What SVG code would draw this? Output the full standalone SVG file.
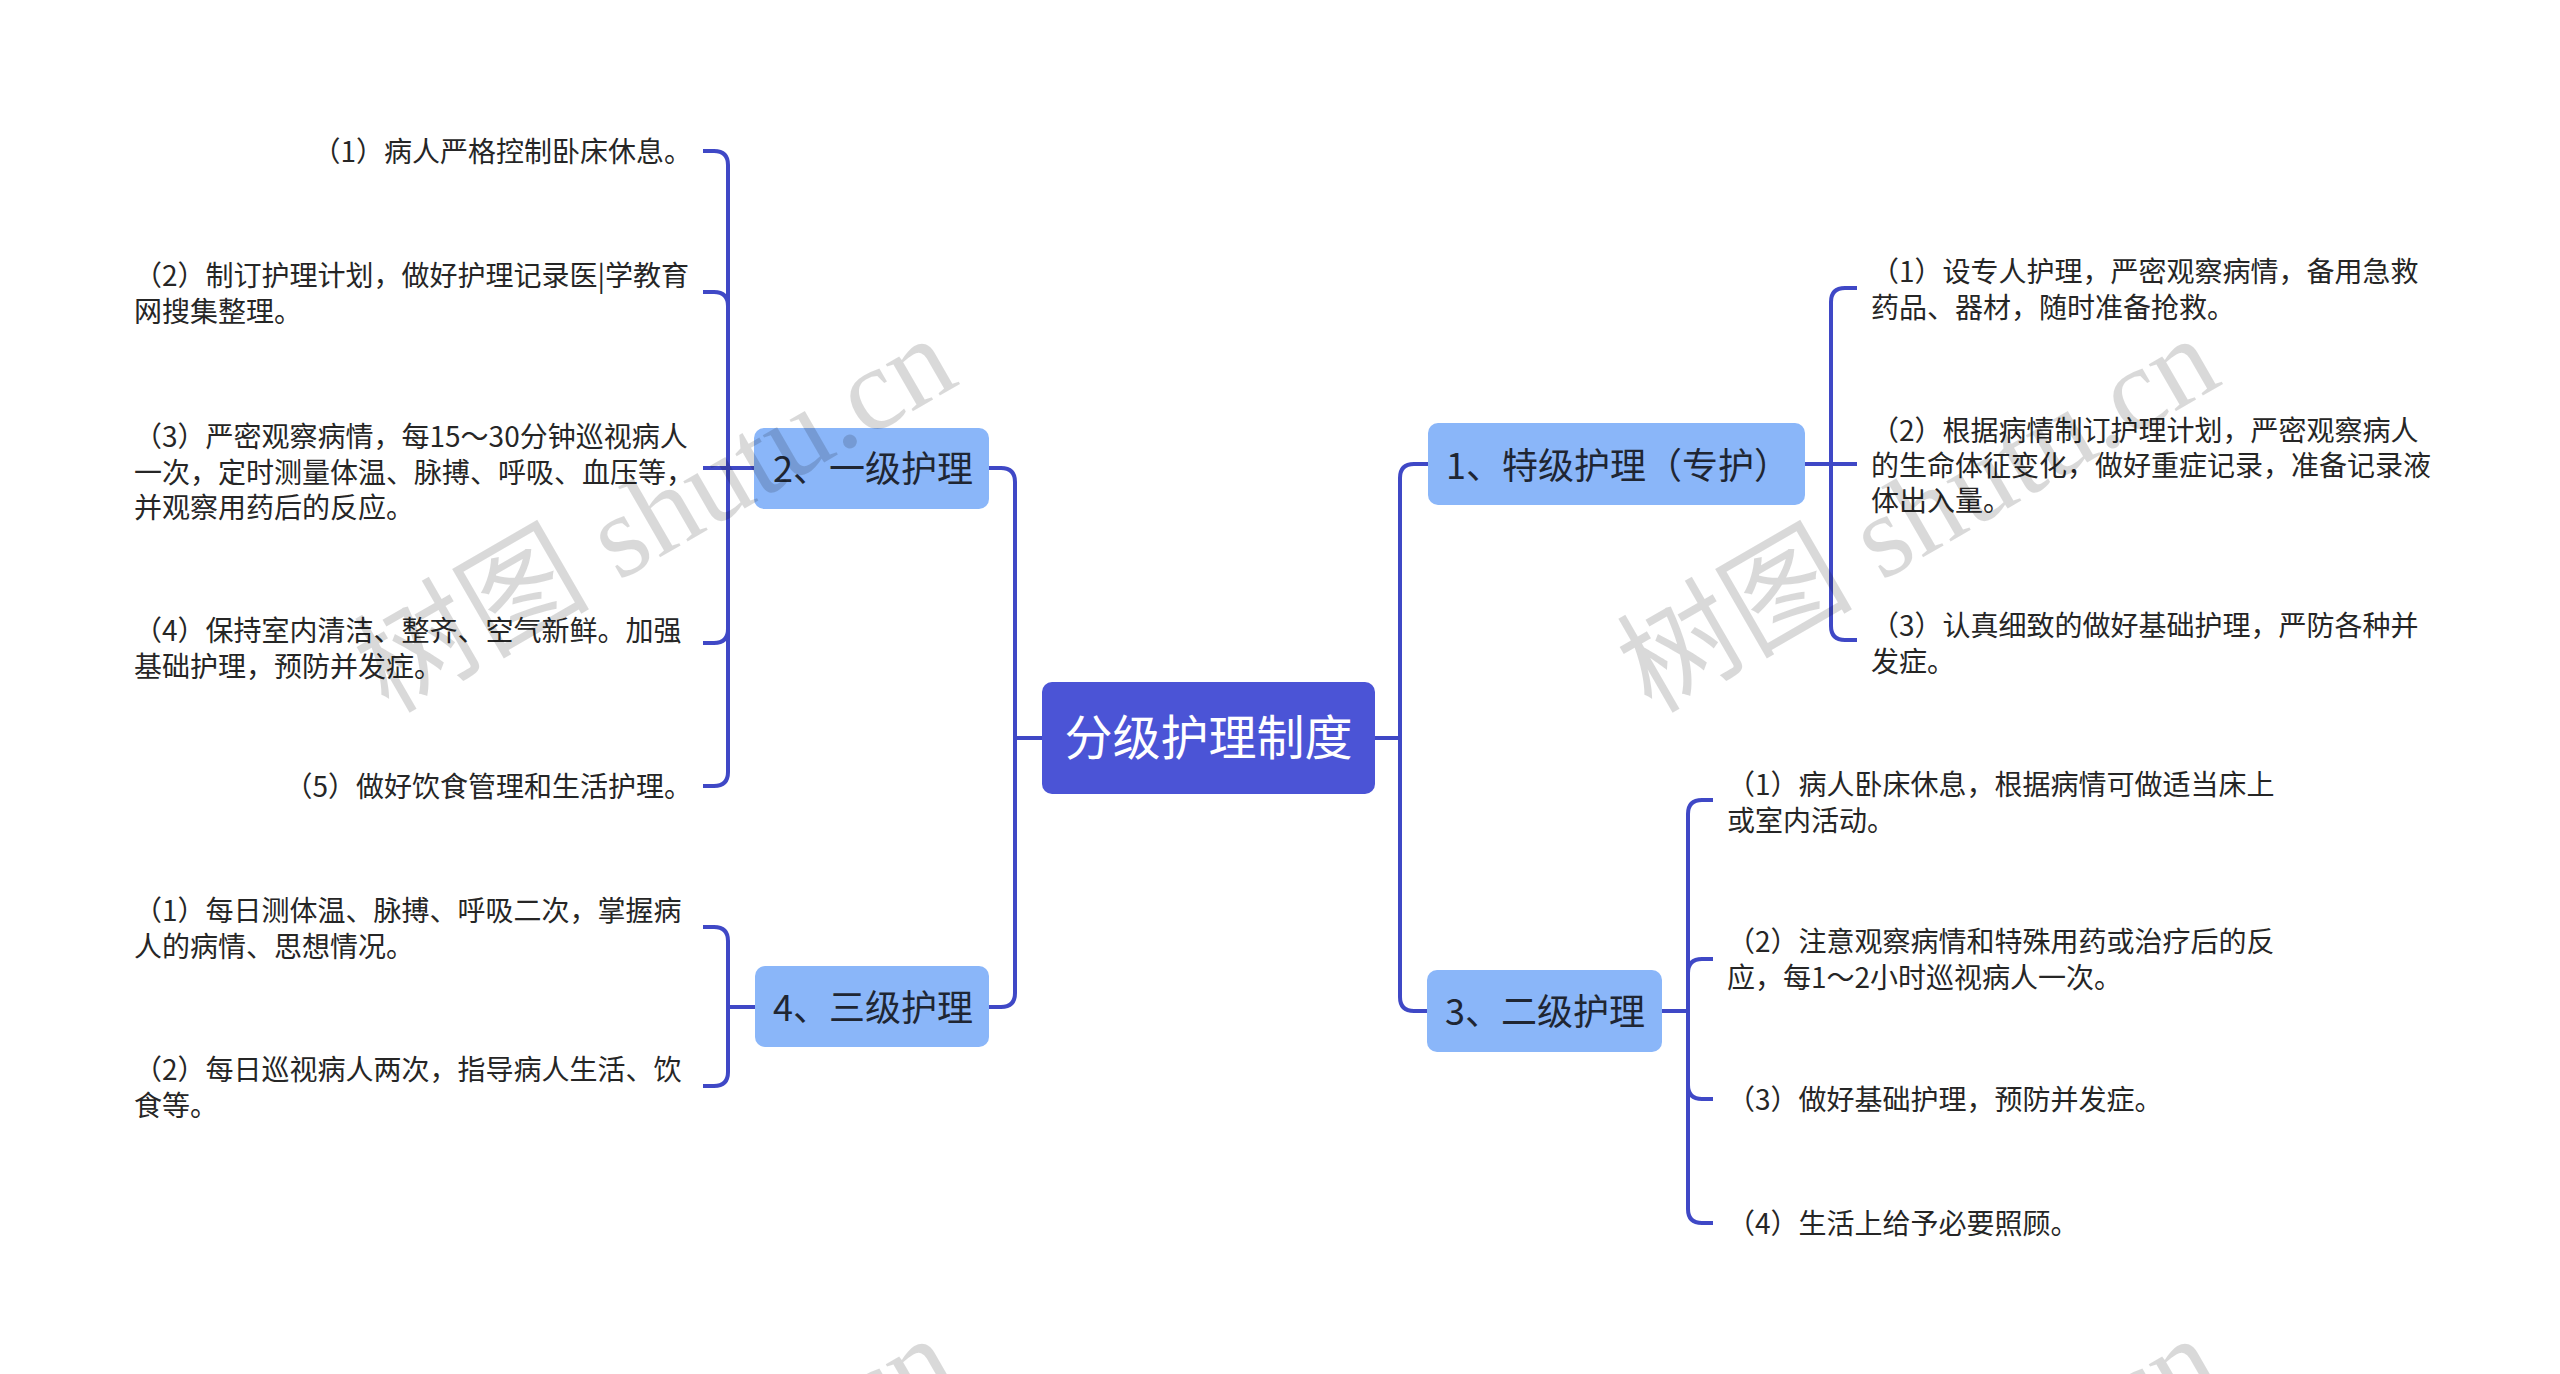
<svg xmlns="http://www.w3.org/2000/svg" width="2560" height="1374" viewBox="0 0 2560 1374">
<style>
.bg{fill:#ffffff}
.root{fill:#4B54D6}
.l1{fill:#8AB6F9}
.rootText{font-family:"Noto Sans CJK SC","Noto Sans",sans-serif;font-size:48px;fill:#ffffff}
.l1Text{font-family:"Noto Sans CJK SC","Noto Sans",sans-serif;font-size:36px;fill:#1F2633}
.leaf{font-family:"Noto Sans CJK SC","Noto Sans",sans-serif;font-size:28px;fill:#262626}
.conn{fill:none;stroke:#3F48C6;stroke-width:4;stroke-linecap:butt;stroke-linejoin:round}
.wm{font-family:"Liberation Serif","Noto Sans CJK SC",serif;font-size:118px;fill:#000000;fill-opacity:0.15}
</style>
<rect class="bg" x="0" y="0" width="2560" height="1374"/>

<g id="connectors">
  <path class="conn" d="M1042,738 H1015 V482 Q1015,468 1001,468 H989"/>
  <path class="conn" d="M1015,738 V993 Q1015,1007 1001,1007 H989"/>
  <path class="conn" d="M1375,738 H1400 V478 Q1400,464 1414,464 H1428"/>
  <path class="conn" d="M1400,738 V997 Q1400,1011 1414,1011 H1427"/>

  <path class="conn" d="M754,468 H728 V165 Q728,151 714,151 H703"/>
  <path class="conn" d="M728,468 V306 Q728,292 714,292 H703"/>
  <path class="conn" d="M728,468 H703"/>
  <path class="conn" d="M728,468 V629 Q728,643 714,643 H703"/>
  <path class="conn" d="M728,468 V772 Q728,786 714,786 H703"/>

  <path class="conn" d="M755,1007 H728 V941 Q728,927 714,927 H703"/>
  <path class="conn" d="M728,1007 V1072 Q728,1086 714,1086 H703"/>

  <path class="conn" d="M1805,464 H1831 V302 Q1831,288 1845,288 H1857"/>
  <path class="conn" d="M1831,464 H1857"/>
  <path class="conn" d="M1831,464 V626 Q1831,640 1845,640 H1857"/>

  <path class="conn" d="M1662,1011 H1688 V814 Q1688,800 1702,800 H1713"/>
  <path class="conn" d="M1688,1011 V973 Q1688,959 1702,959 H1713"/>
  <path class="conn" d="M1688,1011 V1085 Q1688,1099 1702,1099 H1713"/>
  <path class="conn" d="M1688,1011 V1209 Q1688,1223 1702,1223 H1713"/>
</g>

<g id="root">
  <rect class="root" x="1042" y="682" width="333" height="112" rx="10"/>
  <text class="rootText" x="1208.5" y="755" text-anchor="middle">分级护理制度</text>
</g>

<g id="n2">
  <rect class="l1" x="754" y="428" width="235" height="81" rx="10"/>
  <text class="l1Text" x="773" y="482">2、一级护理</text>
</g>
<g id="n4">
  <rect class="l1" x="755" y="966" width="234" height="81" rx="10"/>
  <text class="l1Text" x="773" y="1021">4、三级护理</text>
</g>
<g id="n1">
  <rect class="l1" x="1428" y="423" width="377" height="82" rx="10"/>
  <text class="l1Text" x="1446" y="479">1、特级护理（专护）</text>
</g>
<g id="n3">
  <rect class="l1" x="1427" y="970" width="235" height="82" rx="10"/>
  <text class="l1Text" x="1445" y="1025">3、二级护理</text>
</g>

<g id="c1"><text class="leaf" x="692" y="162" text-anchor="end">（1）病人严格控制卧床休息。</text></g>
<g id="c2">
  <text class="leaf" x="134" y="286">（2）制订护理计划，做好护理记录医|学教育</text>
  <text class="leaf" x="134" y="322">网搜集整理。</text>
</g>
<g id="c3">
  <text class="leaf" x="134" y="447">（3）严密观察病情，每15～30分钟巡视病人</text>
  <text class="leaf" x="134" y="483">一次，定时测量体温、脉搏、呼吸、血压等，</text>
  <text class="leaf" x="134" y="518">并观察用药后的反应。</text>
</g>
<g id="c4">
  <text class="leaf" x="134" y="641">（4）保持室内清洁、整齐、空气新鲜。加强</text>
  <text class="leaf" x="134" y="677">基础护理，预防并发症。</text>
</g>
<g id="c5"><text class="leaf" x="692" y="797" text-anchor="end">（5）做好饮食管理和生活护理。</text></g>

<g id="d1">
  <text class="leaf" x="134" y="921">（1）每日测体温、脉搏、呼吸二次，掌握病</text>
  <text class="leaf" x="134" y="957">人的病情、思想情况。</text>
</g>
<g id="d2">
  <text class="leaf" x="134" y="1080">（2）每日巡视病人两次，指导病人生活、饮</text>
  <text class="leaf" x="134" y="1116">食等。</text>
</g>

<g id="e1">
  <text class="leaf" x="1871" y="282">（1）设专人护理，严密观察病情，备用急救</text>
  <text class="leaf" x="1871" y="318">药品、器材，随时准备抢救。</text>
</g>
<g id="e2">
  <text class="leaf" x="1871" y="441">（2）根据病情制订护理计划，严密观察病人</text>
  <text class="leaf" x="1871" y="476">的生命体征变化，做好重症记录，准备记录液</text>
  <text class="leaf" x="1871" y="511">体出入量。</text>
</g>
<g id="e3">
  <text class="leaf" x="1871" y="636">（3）认真细致的做好基础护理，严防各种并</text>
  <text class="leaf" x="1871" y="672">发症。</text>
</g>

<g id="f1">
  <text class="leaf" x="1727" y="795">（1）病人卧床休息，根据病情可做适当床上</text>
  <text class="leaf" x="1727" y="831">或室内活动。</text>
</g>
<g id="f2">
  <text class="leaf" x="1727" y="952">（2）注意观察病情和特殊用药或治疗后的反</text>
  <text class="leaf" x="1727" y="988">应，每1～2小时巡视病人一次。</text>
</g>
<g id="f3"><text class="leaf" x="1727" y="1110">（3）做好基础护理，预防并发症。</text></g>
<g id="f4"><text class="leaf" x="1727" y="1234">（4）生活上给予必要照顾。</text></g>

<g id="watermarks">
  <text class="wm" transform="translate(655,514) rotate(-30)" x="0" y="40" text-anchor="middle">树图 shutu.cn</text>
  <text class="wm" transform="translate(1918,514) rotate(-30)" x="0" y="40" text-anchor="middle">树图 shutu.cn</text>
  <text class="wm" transform="translate(655,1514) rotate(-30)" x="0" y="40" text-anchor="middle">树图 shutu.cn</text>
  <text class="wm" transform="translate(1918,1514) rotate(-30)" x="0" y="40" text-anchor="middle">树图 shutu.cn</text>
</g>
</svg>
